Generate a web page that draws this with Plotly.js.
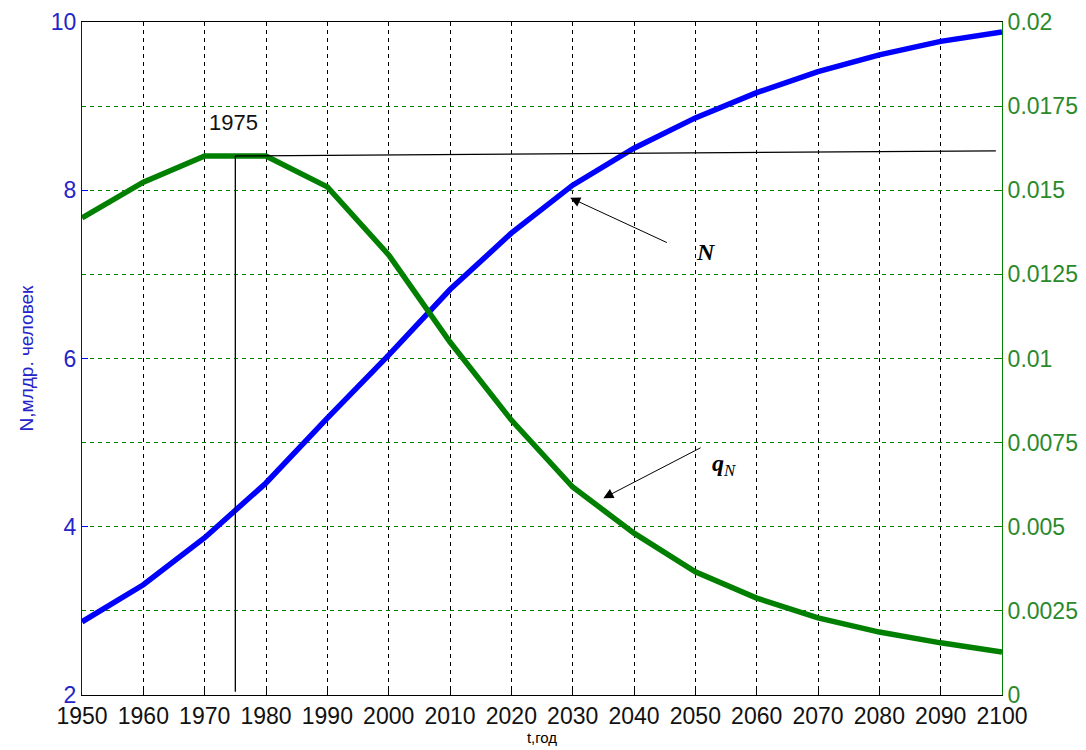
<!DOCTYPE html>
<html>
<head>
<meta charset="utf-8">
<script src="https://cdn.plot.ly/plotly-3.0.1.min.js"></script>
<style>
  html, body { margin: 0; padding: 0; background: #fff; }
  #chart { width: 1086px; height: 750px; }
</style>
</head>
<body>
<div id="chart"></div>
<script>
// Years (decades)
const years = [1950, 1960, 1970, 1980, 1990, 2000, 2010, 2020, 2030, 2040, 2050, 2060, 2070, 2080, 2090, 2100];
// Population N, billions of people
const popN = [2.87, 3.31, 3.87, 4.52, 5.29, 6.04, 6.82, 7.49, 8.06, 8.50, 8.86, 9.16, 9.41, 9.61, 9.77, 9.88];
// Relative growth rate q_N
const rateQ = [0.01418, 0.01524, 0.01602, 0.01602, 0.01510, 0.01308, 0.01049, 0.00817, 0.00618, 0.00481, 0.00366, 0.00288, 0.00229, 0.00187, 0.00155, 0.00128];

const xTicks = [1950, 1960, 1970, 1980, 1990, 2000, 2010, 2020, 2030, 2040, 2050, 2060, 2070, 2080, 2090, 2100];
const leftTicks = [2, 4, 6, 8, 10];
const rightTicks = [0, 0.0025, 0.005, 0.0075, 0.01, 0.0125, 0.015, 0.0175, 0.02];
const rightTickText = ['0', '0.0025', '0.005', '0.0075', '0.01', '0.0125', '0.015', '0.0175', '0.02'];

// Peak of the growth rate
const peakYear = 1975;
const peakRate = 0.01602;
const peakLineEnd = [2099, 0.01617];

const BLUE = '#0000ff';
const GREEN = '#007f00';
const tickFont = { family: 'Liberation Sans, Arial, sans-serif', size: 23 };

const traces = [
  {
    x: years, y: popN, type: 'scatter', mode: 'lines', yaxis: 'y',
    line: { color: BLUE, width: 5.5 }, hoverinfo: 'x+y'
  },
  {
    x: years, y: rateQ, type: 'scatter', mode: 'lines', yaxis: 'y2',
    line: { color: GREEN, width: 5.5 }, hoverinfo: 'x+y'
  }
];

const layout = {
  width: 1086, height: 750,
  margin: { l: 82, r: 84, t: 22, b: 55 },
  paper_bgcolor: '#fff', plot_bgcolor: '#fff',
  showlegend: false,
  xaxis: {
    range: [1950, 2100], tickvals: xTicks, ticktext: xTicks.map(String),
    showgrid: true, gridcolor: '#000', gridwidth: 1, griddash: '4px,4px',
    zeroline: false, showline: true, linecolor: '#000', linewidth: 1, mirror: true,
    ticks: 'inside', ticklen: 6, tickcolor: '#000',
    tickfont: Object.assign({ color: '#111' }, tickFont),
    title: { text: 't,год', font: { family: 'Liberation Sans, Arial, sans-serif', size: 15, color: '#000' }, standoff: 2 }
  },
  yaxis: {
    range: [2, 10], tickvals: leftTicks, ticktext: leftTicks.map(String),
    showgrid: false, zeroline: false, showline: true, linecolor: BLUE, linewidth: 1,
    ticks: 'inside', ticklen: 6, tickcolor: BLUE,
    tickfont: Object.assign({ color: '#2424c8' }, tickFont),
    title: { text: 'N,млдр. человек', font: { family: 'Liberation Sans, Arial, sans-serif', size: 19, color: '#2424c8' }, standoff: 12 }
  },
  yaxis2: {
    range: [0, 0.02], tickvals: rightTicks, ticktext: rightTickText,
    overlaying: 'y', side: 'right',
    showgrid: true, gridcolor: GREEN, gridwidth: 1, griddash: '4px,4px',
    zeroline: false, showline: true, linecolor: GREEN, linewidth: 1,
    ticks: 'inside', ticklen: 6, tickcolor: GREEN,
    tickfont: Object.assign({ color: '#2a8a2a' }, tickFont)
  },
  shapes: [
    { type: 'line', xref: 'x', yref: 'y2', x0: peakYear, x1: peakYear, y0: peakRate, y1: 0.0001,
      line: { color: '#000', width: 1.3 } },
    { type: 'line', xref: 'x', yref: 'y2', x0: peakYear, x1: peakLineEnd[0], y0: peakRate, y1: peakLineEnd[1],
      line: { color: '#000', width: 1.3 } }
  ],
  annotations: [
    { xref: 'x', yref: 'y2', x: 1974.7, y: 0.0170, text: '1975', showarrow: false,
      font: { family: 'Liberation Sans, Arial, sans-serif', size: 22, color: '#111' } },
    // arrow pointing at the N curve
    { xref: 'x', yref: 'y', x: 2029.6, y: 7.91, ax: 2045.6, ay: 7.37, axref: 'x', ayref: 'y',
      text: '', showarrow: true, arrowhead: 2, arrowsize: 2, arrowwidth: 1, arrowcolor: '#000' },
    { xref: 'x', yref: 'y', x: 2051.7, y: 7.27, text: '<b><i>N</i></b>', showarrow: false,
      font: { family: 'Liberation Serif, Times New Roman, serif', size: 24, color: '#000' } },
    // arrow pointing at the q_N curve
    { xref: 'x', yref: 'y2', x: 2035.0, y: 0.00585, ax: 2051.1, ay: 0.00737, axref: 'x', ayref: 'y2',
      text: '', showarrow: true, arrowhead: 2, arrowsize: 2, arrowwidth: 1, arrowcolor: '#000' },
    { xref: 'x', yref: 'y2', x: 2054.6, y: 0.00684, text: '<b><i>q</i></b><sub><i>N</i></sub>', showarrow: false,
      font: { family: 'Liberation Serif, Times New Roman, serif', size: 24, color: '#000' } }
  ]
};

Plotly.newPlot('chart', traces, layout, { displayModeBar: false, staticPlot: true });
</script>
</body>
</html>
